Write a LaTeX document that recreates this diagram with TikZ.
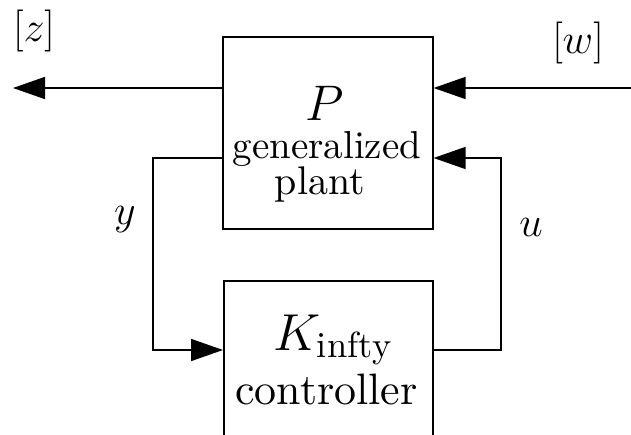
\RequirePackage{fix-cm}
\documentclass[tikz,border=0pt]{standalone}
\usepackage{fontspec}
\setmainfont{lmroman10-regular}[Extension=.otf]
\usetikzlibrary{arrows.meta}
\begin{document}
\begin{tikzpicture}[x=1pt,y=-1pt,
  wire/.style={line width=1.6pt},
  arr/.style={wire,-{Triangle[length=32pt,width=22pt]}},
  blockbox/.style={draw,line width=1.6pt,inner sep=0pt,anchor=north west},
  txt/.style={anchor=base,inner sep=0pt,font=\fontsize{42}{50}\selectfont},
  mth/.style={anchor=base,inner sep=0pt,font=\fontsize{50}{60}\selectfont}]
\useasboundingbox (0,0) rectangle (631,435);
\clip (0,0) rectangle (631,435);
% blocks
\node[blockbox,minimum width=210pt,minimum height=192pt] (P) at (222,36) {};
\node[blockbox,minimum width=209pt,minimum height=200pt] (K) at (223,280) {};
% texts
\node[mth] (Pl) at (325,121) {$P$};
\node[txt,font=\fontsize{39}{46}\selectfont] (Pg) at (327,159) {generalized};
\node[txt,font=\fontsize{40}{48}\selectfont] (Pp) at (320,195) {plant};
\node[mth,font=\fontsize{52}{62}\selectfont] (Kl) at (333,350) {$K_{\mathrm{infty}}$};
\node[txt,font=\fontsize{44}{52}\selectfont] (Kc) at (326.5,404) {controller};
% labels
\node[txt] (zl) at (34,42) {$[z]$};
\node[txt] (wl) at (578,54) {$[w]$};
\node[txt] (yl) at (125,225) {$y$};
\node[txt] (ul) at (531,237) {$u$};
% coordinates
\coordinate (zend) at (13,88);
\coordinate (wstart) at (631,88);
\coordinate (ya) at (153,158);
\coordinate (yb) at (153,350);
\coordinate (ua) at (501,350);
\coordinate (ub) at (501,158);
% connectors
\draw[arr] (P.west |- zend) -- (zend);
\draw[arr] (wstart) -- (P.east |- wstart);
\draw[arr] (P.west |- ya) -- (ya) -- (yb) -- (K.west |- yb);
\draw[arr] (K.east |- ua) -- (ua) -- (ub) -- (P.east |- ub);
\end{tikzpicture}
\end{document}
